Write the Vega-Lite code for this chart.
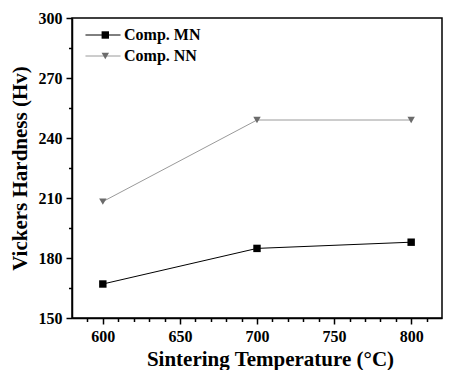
{
  "$schema": "https://vega.github.io/schema/vega-lite/v6.json",
  "width": 370,
  "height": 300,
  "autosize": {"type": "none"},
  "padding": {"left": 72, "top": 18, "right": 8, "bottom": 52},
  "background": "white",
  "config": {
    "view": {"stroke": "black", "strokeWidth": 1.5},
    "axis": {
      "grid": false,
      "labelFont": "Liberation Serif",
      "labelFontWeight": "bold",
      "labelFontSize": 16,
      "labelColor": "black",
      "titleFont": "Liberation Serif",
      "titleFontWeight": "bold",
      "titleFontSize": 21,
      "titleColor": "black",
      "domainColor": "black",
      "domainWidth": 1.5,
      "tickColor": "black",
      "tickWidth": 1.5,
      "tickSize": 6
    },
    "legend": {
      "labelFont": "Liberation Serif",
      "labelFontWeight": "bold",
      "labelFontSize": 16,
      "labelColor": "black"
    }
  },
  "data": {
    "values": [
      {"T": 600, "H": 167.0, "s": "Comp. MN"},
      {"T": 700, "H": 184.8, "s": "Comp. MN"},
      {"T": 800, "H": 187.9, "s": "Comp. MN"},
      {"T": 600, "H": 208.2, "s": "Comp. NN"},
      {"T": 700, "H": 249.0, "s": "Comp. NN"},
      {"T": 800, "H": 249.0, "s": "Comp. NN"}
    ]
  },
  "resolve": {
    "axis": {"x": "independent", "y": "independent"},
    "scale": {"shape": "independent", "fill": "independent", "stroke": "independent"},
    "legend": {"shape": "independent", "fill": "independent", "stroke": "independent"}
  },
  "layer": [
    {
      "mark": {"type": "line", "strokeWidth": 1},
      "encoding": {
        "x": {
          "field": "T", "type": "quantitative",
          "scale": {"domain": [580, 820], "nice": false, "zero": false},
          "axis": {"title": "Sintering Temperature (°C)", "values": [600, 650, 700, 750, 800], "labelPadding": 4, "titlePadding": 4, "titleX": 198, "orient": "bottom"}
        },
        "y": {
          "field": "H", "type": "quantitative",
          "scale": {"domain": [150, 300], "nice": false, "zero": false},
          "axis": {"title": "Vickers Hardness (Hv)", "values": [150, 180, 210, 240, 270, 300], "labelPadding": 4, "titlePadding": 8, "orient": "left"}
        },
        "stroke": {
          "field": "s", "type": "nominal",
          "scale": {"domain": ["Comp. MN", "Comp. NN"], "range": ["#000000", "#9a9a9a"]},
          "legend": {
            "title": null,
            "orient": "none",
            "legendX": 23,
            "legendY": 9,
            "padding": 0,
            "symbolType": "M-2.92,0H2.92",
            "symbolSize": 144,
            "symbolStrokeWidth": 1,
            "symbolOpacity": 1,
            "labelOffset": 13,
            "rowPadding": 5
          }
        }
      }
    },
    {
      "mark": {"type": "point", "filled": true, "opacity": 1, "size": 55},
      "encoding": {
        "x": {
          "field": "T", "type": "quantitative",
          "axis": {"title": null, "labels": false, "domain": false, "values": [590, 610, 620, 630, 640, 660, 670, 680, 690, 710, 720, 730, 740, 760, 770, 780, 790, 810], "tickSize": 3.5, "orient": "bottom"}
        },
        "y": {
          "field": "H", "type": "quantitative",
          "axis": {"title": null, "labels": false, "domain": false, "values": [165, 195, 225, 255, 285], "tickSize": 3.5, "orient": "left"}
        },
        "shape": {
          "field": "s", "type": "nominal",
          "scale": {"domain": ["Comp. MN", "Comp. NN"], "range": ["square", "triangle-down"]},
          "legend": {
            "title": null,
            "orient": "none",
            "legendX": 25.3,
            "legendY": 9,
            "padding": 0,
            "symbolSize": 55,
            "symbolOpacity": 1,
            "labelOffset": 13,
            "rowPadding": 5,
            "labelExpr": "''"
          }
        },
        "fill": {
          "field": "s", "type": "nominal",
          "scale": {"domain": ["Comp. MN", "Comp. NN"], "range": ["#000000", "#6b6b6b"]}
        }
      }
    }
  ]
}
